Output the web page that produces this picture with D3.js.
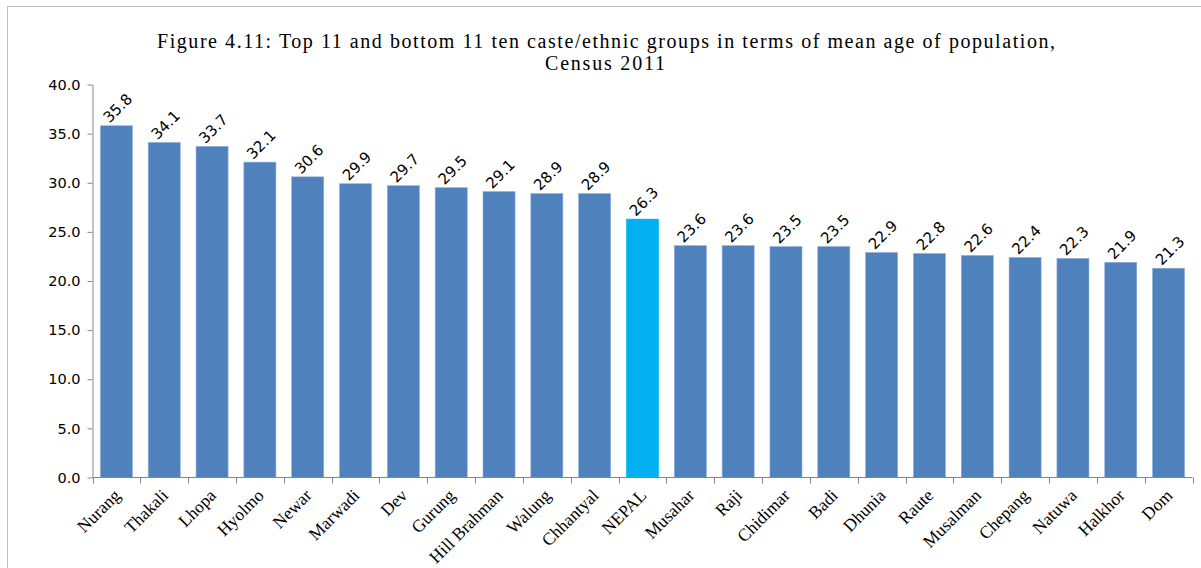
<!DOCTYPE html>
<html>
<head>
<meta charset="utf-8">
<script src="https://cdn.jsdelivr.net/npm/d3@7"></script>
<style>
  html, body { margin: 0; padding: 0; background: #fff; }
  svg { display: block; }
</style>
</head>
<body>
<svg id="chart" width="1201" height="568"></svg>
<script>
const categories = ["Nurang","Thakali","Lhopa","Hyolmo","Newar","Marwadi","Dev","Gurung","Hill Brahman","Walung","Chhantyal","NEPAL","Musahar","Raji","Chidimar","Badi","Dhunia","Raute","Musalman","Chepang","Natuwa","Halkhor","Dom"];
const meanAge = [35.8,34.1,33.7,32.1,30.6,29.9,29.7,29.5,29.1,28.9,28.9,26.3,23.6,23.6,23.5,23.5,22.9,22.8,22.6,22.4,22.3,21.9,21.3];
const yTicks = [0,5,10,15,20,25,30,35,40];
const titleLines = ["Figure 4.11: Top 11 and bottom 11 ten caste/ethnic groups in terms of mean age of population,", "Census 2011"];
const highlight = "NEPAL";

const svg = d3.select("#chart");

svg.append("rect")
  .attr("x", 7.5).attr("y", 6.5)
  .attr("width", 1300).attr("height", 700)
  .attr("fill", "none").attr("stroke", "#bfbfbf").attr("stroke-width", 1);

const x = d3.scaleBand().domain(categories).range([92.5, 1192.5]).paddingInner(0.33).paddingOuter(0.165);
const y = d3.scaleLinear().domain([0, 40]).range([477.5, 84.5]);

const title = svg.append("g").attr("font-family", "'Liberation Serif', 'Times New Roman', serif").attr("fill", "#000");
title.append("text").attr("x", 606).attr("y", 48).attr("text-anchor", "middle")
  .attr("font-size", 20).attr("textLength", 898).attr("lengthAdjust", "spacing").text(titleLines[0]);
title.append("text").attr("x", 605).attr("y", 70).attr("text-anchor", "middle")
  .attr("font-size", 20).attr("textLength", 120).attr("lengthAdjust", "spacing").text(titleLines[1]);

svg.append("g").selectAll("rect").data(categories).join("rect")
  .attr("x", d => x(d))
  .attr("width", x.bandwidth())
  .attr("y", (d, i) => y(meanAge[i]))
  .attr("height", (d, i) => y(0) - y(meanAge[i]))
  .attr("fill", d => d === highlight ? "#00B0F0" : "#4F81BD")
  .attr("stroke", d => d === highlight ? "#00B0F0" : "#8eaedb")
  .attr("stroke-width", 0.6);

const yAxis = d3.axisLeft(y).tickValues(yTicks).tickSize(5).tickSizeOuter(0).tickFormat(d3.format(".1f"));
const yg = svg.append("g").attr("transform", "translate(92.5,0)").call(yAxis);
yg.select(".domain").attr("stroke", "#868686");
yg.selectAll(".tick line").attr("stroke", "#868686");
yg.selectAll(".tick text").attr("font-family", "'DejaVu Sans', sans-serif").attr("font-size", 14.5)
  .attr("fill", "#000").attr("x", -12);

const xg = svg.append("g");
xg.append("line").attr("x1", 92.5).attr("x2", 1192.5).attr("y1", y(0)).attr("y2", y(0)).attr("stroke", "#868686");
const step = x.step();
const boundaries = d3.range(categories.length + 1).map(i => 92.5 + i * step);
xg.selectAll("line.tk").data(boundaries).join("line").attr("class", "tk")
  .attr("x1", d => Math.round(d) + 0.5).attr("x2", d => Math.round(d) + 0.5)
  .attr("y1", y(0)).attr("y2", y(0) + 6).attr("stroke", "#868686");

svg.append("g").selectAll("text").data(categories).join("text")
  .attr("transform", d => `translate(${x(d) + x.bandwidth() / 2 + 5},${y(0) + 19}) rotate(-45)`)
  .attr("text-anchor", "end")
  .attr("font-family", "'Liberation Serif', 'Times New Roman', serif")
  .attr("font-size", 17.5).attr("fill", "#000")
  .text(d => d);

svg.append("g").selectAll("text").data(categories).join("text")
  .attr("transform", (d, i) => `translate(${x(d) + x.bandwidth() / 2 + 5},${y(meanAge[i]) - 14}) rotate(-45)`)
  .attr("text-anchor", "middle")
  .attr("font-family", "'DejaVu Sans', sans-serif")
  .attr("font-size", 15).attr("fill", "#000")
  .text((d, i) => d3.format(".1f")(meanAge[i]));
</script>
</body>
</html>
